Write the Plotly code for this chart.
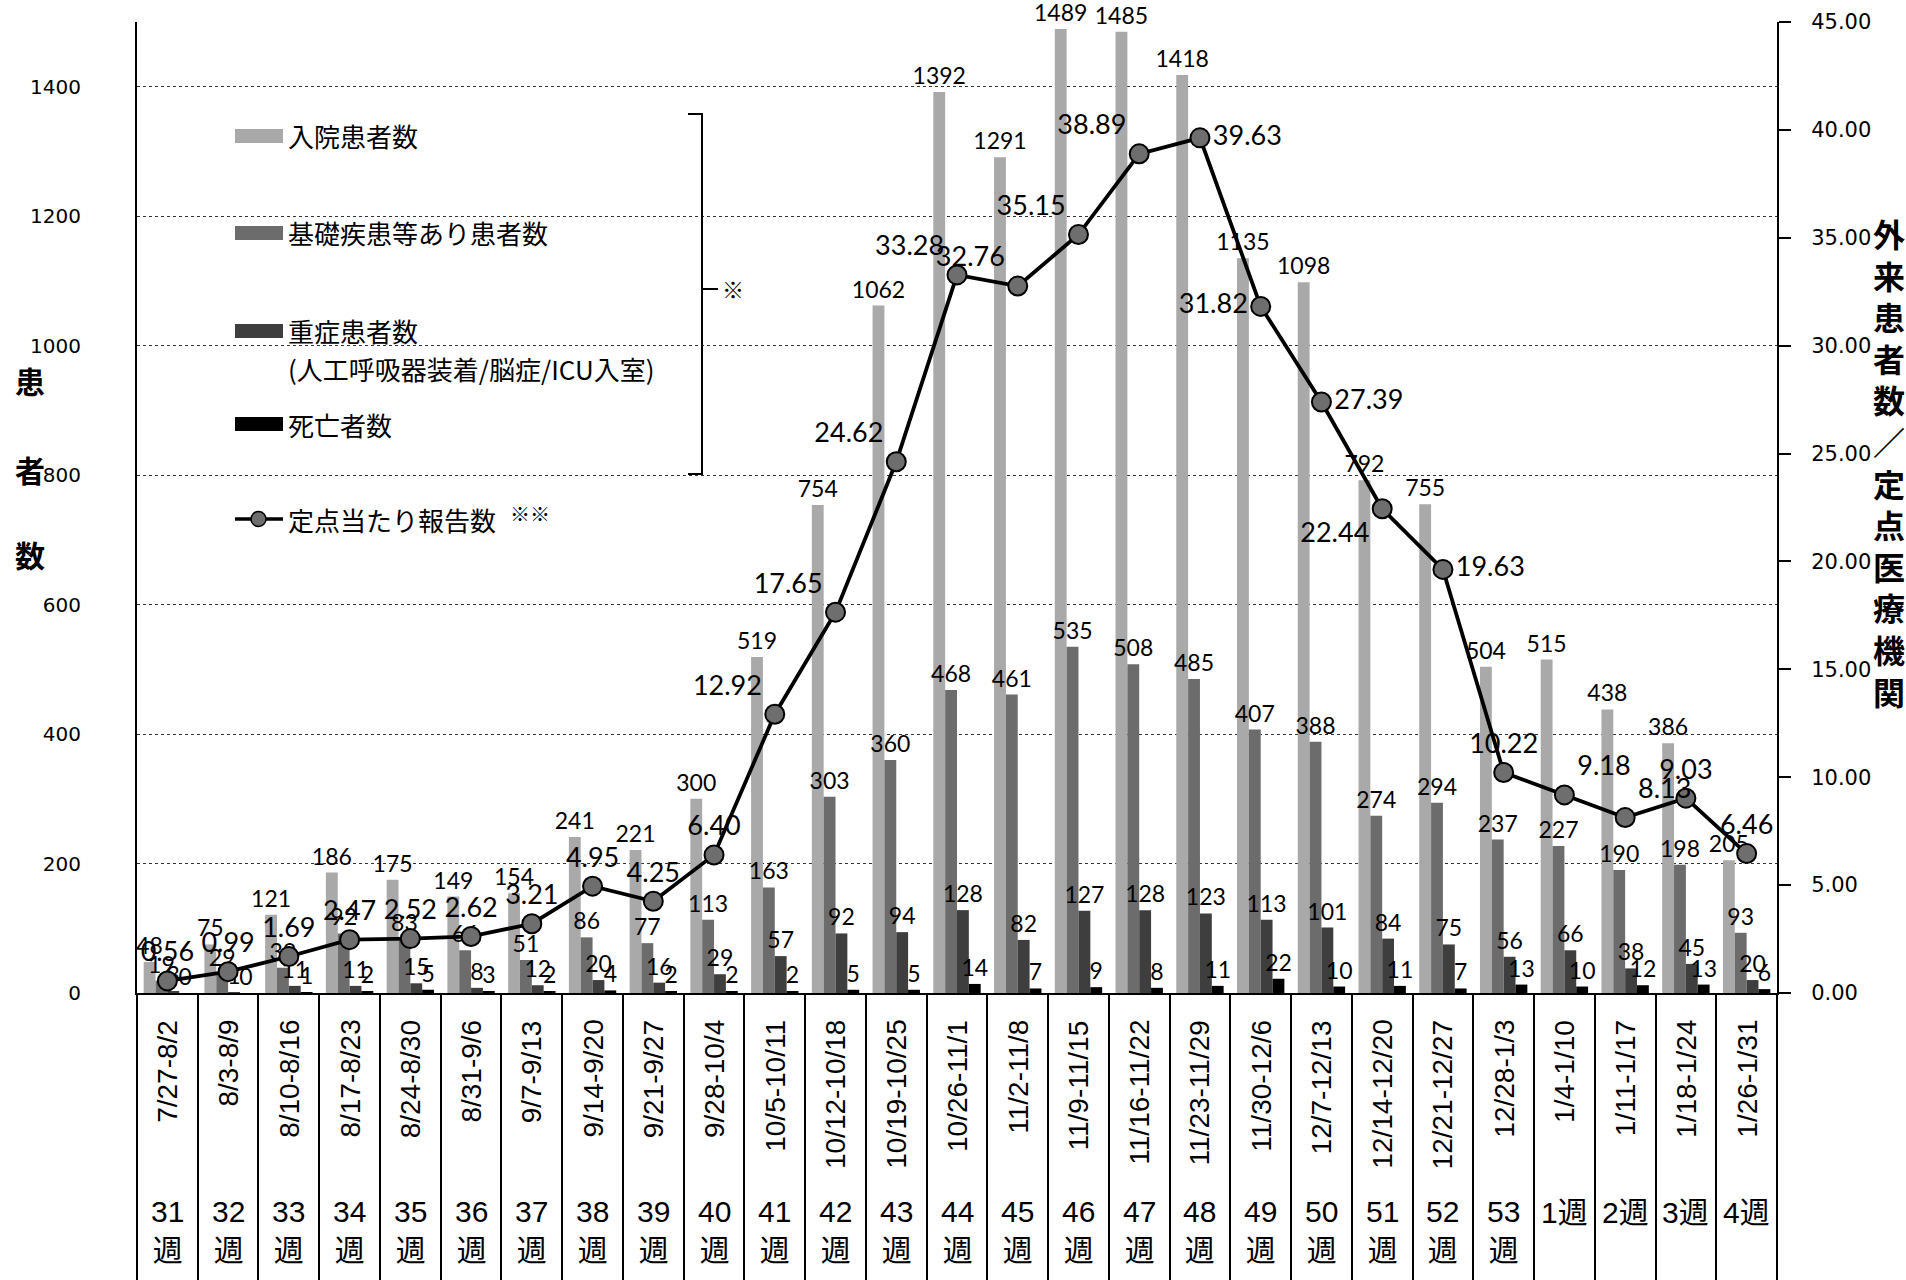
import plotly.graph_objects as go

# ---------------- data ----------------
periods = ["7/27-8/2", "8/3-8/9", "8/10-8/16", "8/17-8/23", "8/24-8/30", "8/31-9/6",
           "9/7-9/13", "9/14-9/20", "9/21-9/27", "9/28-10/4", "10/5-10/11", "10/12-10/18",
           "10/19-10/25", "10/26-11/1", "11/2-11/8", "11/9-11/15", "11/16-11/22",
           "11/23-11/29", "11/30-12/6", "12/7-12/13", "12/14-12/20", "12/21-12/27",
           "12/28-1/3", "1/4-1/10", "1/11-1/17", "1/18-1/24", "1/26-1/31"]
weeks = ["31<br>週", "32<br>週", "33<br>週", "34<br>週", "35<br>週", "36<br>週", "37<br>週",
         "38<br>週", "39<br>週", "40<br>週", "41<br>週", "42<br>週", "43<br>週", "44<br>週",
         "45<br>週", "46<br>週", "47<br>週", "48<br>週", "49<br>週", "50<br>週", "51<br>週",
         "52<br>週", "53<br>週", "1週", "2週", "3週", "4週"]
hospitalized = [48, 75, 121, 186, 175, 149, 154, 241, 221, 300, 519, 754, 1062, 1392, 1291,
                1489, 1485, 1418, 1135, 1098, 792, 755, 504, 515, 438, 386, 205]
underlying = [19, 29, 39, 92, 83, 66, 51, 86, 77, 113, 163, 303, 360, 468, 461,
              535, 508, 485, 407, 388, 274, 294, 237, 227, 190, 198, 93]
severe = [3, 1, 11, 11, 15, 8, 12, 20, 16, 29, 57, 92, 94, 128, 82,
          127, 128, 123, 113, 101, 84, 75, 56, 66, 38, 45, 20]
deaths = [0, 0, 1, 2, 5, 3, 2, 4, 2, 2, 2, 5, 5, 14, 7,
          9, 8, 11, 22, 10, 11, 7, 13, 10, 12, 13, 6]
per_site = [0.56, 0.99, 1.69, 2.47, 2.52, 2.62, 3.21, 4.95, 4.25, 6.40, 12.92, 17.65, 24.62,
            33.28, 32.76, 35.15, 38.89, 39.63, 31.82, 27.39, 22.44, 19.63, 10.22, 9.18,
            8.13, 9.03, 6.46]
line_label_pos = (["top center"] * 10 + ["top left"] * 7 +
                  ["middle right", "middle left", "middle right", "bottom left", "middle right"] +
                  ["top center", "top right", "top right", "top center", "top center"])
left_ticks = [0, 200, 400, 600, 800, 1000, 1200, 1400]
right_ticks = [0, 5, 10, 15, 20, 25, 30, 35, 40, 45]

# ---------------- layout geometry (page pixels) ----------------
W, H = 1906, 1280
L, R, T, B = 137, 1777, 22, 993          # plot area


def px(X):
    return (X - L) / (R - L)


def py(Y):
    return (B - Y) / (B - T)


JP = "Noto Sans CJK JP"
NUM = "Lato"
LAB = 23

fig = go.Figure()
bar_specs = [
    ("入院患者数", hospitalized, "#a9a9a9"),
    ("基礎疾患等あり患者数", underlying, "#6c6c6c"),
    ("重症患者数", severe, "#3e3e3e"),
    ("死亡者数", deaths, "#000000"),
]
for name, vals, col in bar_specs:
    fig.add_trace(go.Bar(
        x=periods, y=vals, name=name, marker=dict(color=col, line=dict(width=0)),
        text=[str(v) for v in vals], textposition="outside", constraintext="none",
        textfont=dict(family=NUM, size=LAB, color="black"), cliponaxis=False,
    ))

fig.add_trace(go.Scatter(
    x=periods, y=per_site, yaxis="y2", mode="lines+markers+text", name="定点当たり報告数",
    line=dict(color="black", width=3.8),
    marker=dict(size=19, color="#6e6e6e", line=dict(color="black", width=2)),
    text=[f"{v:.2f}" for v in per_site], textposition=line_label_pos,
    textfont=dict(family=NUM, size=27, color="black"), cliponaxis=False,
))

annotations = []
# category (date) labels, rotated
for p in periods:
    annotations.append(dict(x=p, xref="x", y=py(1018), yref="paper", text=p, showarrow=False,
                            textangle=-90, yanchor="top", xanchor="center",
                            font=dict(family="Liberation Sans", size=28, color="black")))
# week labels
for p, w in zip(periods, weeks):
    ycen = 1231 if "<br>" in w else 1212
    annotations.append(dict(x=p, xref="x", y=py(ycen), yref="paper", text=w, showarrow=False,
                            yanchor="middle", xanchor="center",
                            font=dict(family="Liberation Sans, " + JP, size=30, color="black")))

# left axis title (stacked characters)
for ch, Y in zip("患者数", [380, 469, 554]):
    annotations.append(dict(x=px(30), xref="paper", y=py(Y), yref="paper", text=f"<b>{ch}</b>",
                            showarrow=False, xanchor="center", yanchor="middle",
                            font=dict(family=JP, size=30, color="black")))
# right axis title
annotations.append(dict(x=px(1889), xref="paper", y=py(462), yref="paper",
                        text="<b>" + "<br>".join("外来患者数／定点医療機関") + "</b>",
                        showarrow=False, xanchor="center", yanchor="middle",
                        font=dict(family=JP, size=32, color="black")))

# custom legend
shapes = []
leg_rows = [(136, "#a9a9a9", "入院患者数"), (233, "#6c6c6c", "基礎疾患等あり患者数"),
            (331, "#3e3e3e", "重症患者数"), (424, "#000000", "死亡者数")]
for Y, col, txt in leg_rows:
    shapes.append(dict(type="rect", xref="paper", yref="paper", x0=px(235), x1=px(283),
                       y0=py(Y + 7), y1=py(Y - 7), fillcolor=col, line=dict(width=0)))
    annotations.append(dict(x=px(286), xref="paper", y=py(Y), yref="paper", text=txt,
                            showarrow=False, xanchor="left", yanchor="middle",
                            font=dict(family=JP, size=26, color="black")))
annotations.append(dict(x=px(286), xref="paper", y=py(368), yref="paper",
                        text="(人工呼吸器装着/脳症/ICU入室)", showarrow=False,
                        xanchor="left", yanchor="middle",
                        font=dict(family=JP, size=26, color="black")))
# line legend
shapes.append(dict(type="line", xref="paper", yref="paper", x0=px(235), x1=px(283),
                   y0=py(519), y1=py(519), line=dict(color="black", width=3.5)))
shapes.append(dict(type="circle", xref="paper", yref="paper", x0=px(251), x1=px(266),
                   y0=py(526.5), y1=py(511.5), fillcolor="#6e6e6e",
                   line=dict(color="black", width=1.5)))
annotations.append(dict(x=px(286), xref="paper", y=py(519), yref="paper", text="定点当たり報告数",
                        showarrow=False, xanchor="left", yanchor="middle",
                        font=dict(family=JP, size=26, color="black")))
annotations.append(dict(x=px(508), xref="paper", y=py(513), yref="paper", text="※※",
                        showarrow=False, xanchor="left", yanchor="middle",
                        font=dict(family=JP, size=20, color="black")))
# brace with ※
bx0, bx1, btip = px(688), px(702), px(718)
yt, ym, yb = py(114), py(289), py(474)
shapes.append(dict(type="path", xref="paper", yref="paper",
                   path=f"M {bx0},{yt} L {bx1},{yt} L {bx1},{yb} L {bx0},{yb} "
                        f"M {bx1},{ym} L {btip},{ym}",
                   line=dict(color="black", width=2)))
annotations.append(dict(x=px(720), xref="paper", y=py(288), yref="paper", text="※",
                        showarrow=False, xanchor="left", yanchor="middle",
                        font=dict(family=JP, size=22, color="black")))

fig.update_layout(
    width=W, height=H, autosize=False,
    margin=dict(l=L, r=W - R, t=T, b=H - B, pad=0, autoexpand=False),
    paper_bgcolor="white", plot_bgcolor="white",
    showlegend=False, barmode="group", bargap=0.22, bargroupgap=0,
    annotations=annotations, shapes=shapes,
    xaxis=dict(type="category", tickson="boundaries", ticks="outside", ticklen=H - B,
               tickcolor="black", tickwidth=1.5, tickmode="linear", tick0=0, dtick=1,
               showticklabels=False, showline=True, linecolor="black", linewidth=1.5,
               showgrid=False, zeroline=False, range=[-0.5, len(periods) - 0.5],
               automargin=False),
    yaxis=dict(range=[0, 1500], tickvals=left_ticks, showline=True, linecolor="black",
               linewidth=2, showgrid=True, gridcolor="#333333", griddash="dot", gridwidth=1,
               zeroline=False, ticks="", ticklabelstandoff=50, automargin=False,
               tickfont=dict(family="DejaVu Sans", size=20, color="black")),
    yaxis2=dict(range=[0, 45], tickvals=right_ticks, tickformat=".2f", overlaying="y",
                side="right", showline=True, linecolor="black", linewidth=2, showgrid=False,
                zeroline=False, ticks="outside", ticklen=12, tickcolor="black", tickwidth=1.5,
                ticklabelstandoff=16, automargin=False,
                tickfont=dict(family="DejaVu Sans", size=21, color="black")),
)

# remove the browser's default 8px page margin so the figure fills the window exactly
fig.write_html("out.html", config={"displayModeBar": False},
               post_script="document.body.style.margin='0';document.body.style.overflow='hidden';")
